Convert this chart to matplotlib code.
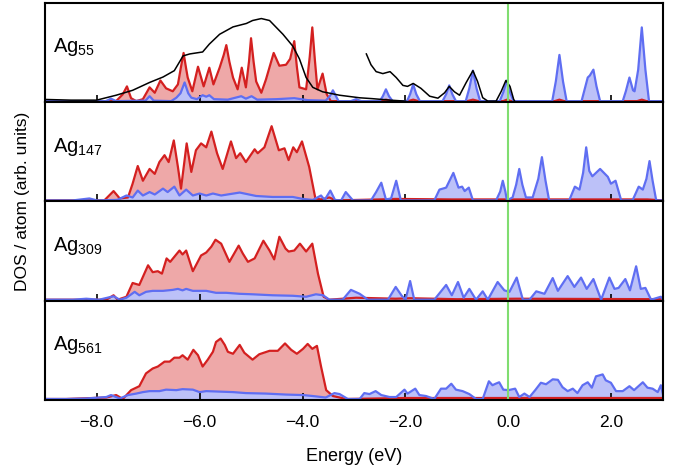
import matplotlib
matplotlib.use('Agg')
import matplotlib.pyplot as plt
from matplotlib.ticker import FuncFormatter

plt.rcParams['font.family'] = ['Liberation Sans', 'DejaVu Sans']
plt.rcParams['mathtext.fontset'] = 'custom'
plt.rcParams['mathtext.rm'] = 'Liberation Sans'

# ---- Ag55 ----
e_d55 = [-9.0, -7.62, -7.49, -7.41, -7.33, -7.23, -7.10, -6.97, -6.87, -6.76, -6.65, -6.52, -6.42, -6.36, -6.31,
         -6.26, -6.23, -6.14, -6.03, -5.92, -5.81, -5.73, -5.61, -5.53, -5.48, -5.42, -5.35, -5.26, -5.18, -5.10,
         -5.04, -5.00, -4.95, -4.90, -4.80, -4.71, -4.56, -4.45, -4.32, -4.24, -4.16, -4.11, -4.06, -3.93, -3.86,
         -3.81, -3.76, -3.71, -3.61, -3.53, -3.45, -2.50, -2.38, -2.25, -1.95, -1.85, -1.75, -0.80, -0.69, -0.58,
         -0.10, -0.03, 0.05, 0.90, 0.99, 1.08, 2.50, 2.59, 2.68, 3.0]
d55 = [0.0, 0.0, 0.07, 0.15, 0.03, 0.0, 0.02, 0.14, 0.085, 0.21, 0.13, 0.10, 0.17, 0.35, 0.49,
       0.33, 0.24, 0.10, 0.35, 0.15, 0.34, 0.17, 0.34, 0.47, 0.57, 0.40, 0.24, 0.12, 0.34, 0.14,
       0.40, 0.64, 0.40, 0.20, 0.085, 0.22, 0.49, 0.36, 0.37, 0.43, 0.61, 0.35, 0.14, 0.12, 0.45,
       0.75, 0.42, 0.12, 0.28, 0.07, 0.0, 0.0, 0.015, 0.0, 0.0, 0.015, 0.0, 0.0, 0.015, 0.0,
       0.0, 0.015, 0.0, 0.0, 0.015, 0.0, 0.0, 0.015, 0.0, 0.0]

e_s55 = [-9.0, -7.82, -7.72, -7.62, -7.05, -6.97, -6.89, -6.55, -6.45, -6.37, -6.29, -6.22, -6.16, -6.05, -5.94,
         -5.87, -5.81, -5.72, -5.45, -5.19, -5.10, -4.99, -4.88, -4.50, -4.16, -3.90, -3.55, -3.47, -3.41, -3.35,
         -3.30, -3.06, -2.96, -2.86, -2.50, -2.44, -2.38, -2.32, -2.25, -1.97, -1.91, -1.85, -1.79, -1.72, -1.28,
         -1.21, -1.15, -1.09, -1.02, -0.83, -0.76, -0.69, -0.62, -0.55, -0.17, -0.10, -0.03, 0.03, 0.10, 0.85,
         0.92, 0.99, 1.06, 1.13, 1.42, 1.48, 1.54, 1.58, 1.65, 1.71, 1.78, 2.22, 2.28, 2.35, 2.42,
         2.45, 2.52, 2.59, 2.66, 2.73, 3.0]
s55 = [0.0, 0.0, 0.025, 0.0, 0.005, 0.05, 0.005, 0.0, 0.035, 0.08, 0.19, 0.08, 0.035, 0.02, 0.06,
       0.045, 0.06, 0.02, 0.015, 0.05, 0.025, 0.05, 0.015, 0.02, 0.03, 0.01, 0.005, 0.05, 0.11, 0.05,
       0.0, 0.0, 0.02, 0.0, 0.0, 0.05, 0.12, 0.05, 0.0, 0.0, 0.07, 0.17, 0.07, 0.0, 0.0,
       0.07, 0.16, 0.07, 0.0, 0.0, 0.13, 0.31, 0.13, 0.0, 0.0, 0.09, 0.21, 0.09, 0.0, 0.0,
       0.20, 0.47, 0.20, 0.0, 0.0, 0.12, 0.24, 0.26, 0.32, 0.15, 0.0, 0.0, 0.10, 0.24, 0.11,
       0.10, 0.32, 0.75, 0.32, 0.0, 0.0]

# photoemission spectrum (two pieces)
e_exp_a = [-9.0, -8.5, -8.0, -7.62, -7.30, -6.97, -6.71, -6.49, -6.32, -6.19, -5.94, -5.81, -5.61, -5.35, -5.09,
           -4.97, -4.80, -4.64, -4.51, -4.38, -4.19, -4.06, -3.93, -3.80, -3.61, -3.28, -2.89, -2.64, -2.30, -2.0]
exp_a = [0.017, 0.01, 0.01, 0.06, 0.11, 0.19, 0.245, 0.31, 0.46, 0.48, 0.50, 0.58, 0.68, 0.755, 0.79,
         0.82, 0.84, 0.82, 0.75, 0.68, 0.56, 0.43, 0.24, 0.14, 0.095, 0.06, 0.034, 0.025, 0.01, 0.0]
e_exp_b = [-2.76, -2.67, -2.57, -2.44, -2.30, -2.18, -2.05, -1.96, -1.85, -1.70, -1.53, -1.37, -1.24, -1.15, -1.05,
           -0.95, -0.82, -0.69, -0.60, -0.50, -0.40, -0.24, -0.14, -0.05, 0.03, 0.10, 0.12]
exp_b = [0.48, 0.37, 0.30, 0.28, 0.30, 0.24, 0.16, 0.15, 0.18, 0.13, 0.05, 0.03, 0.085, 0.15, 0.095,
         0.06, 0.19, 0.31, 0.20, 0.035, 0.0, 0.0, 0.10, 0.21, 0.15, 0.02, 0.0]

# ---- Ag147 ----
e_d147 = [-9.0, -7.85, -7.67, -7.55, -7.39, -7.30, -7.20, -7.10, -6.97, -6.87, -6.78, -6.68, -6.60, -6.50, -6.42,
          -6.36, -6.25, -6.16, -6.07, -5.97, -5.87, -5.77, -5.66, -5.55, -5.39, -5.29, -5.21, -5.10, -4.93, -4.87,
          -4.74, -4.60, -4.46, -4.35, -4.27, -4.18, -4.11, -4.01, -3.87, -3.75, -3.64, -3.48, -3.35, -2.50, -2.20,
          -1.10, 0.20, 0.65, 1.50, 2.70, 3.0]
d147 = [0.0, 0.0, 0.095, 0.02, 0.03, 0.17, 0.35, 0.20, 0.32, 0.27, 0.39, 0.46, 0.39, 0.61, 0.34,
        0.12, 0.58, 0.29, 0.51, 0.58, 0.54, 0.70, 0.48, 0.32, 0.60, 0.43, 0.48, 0.39, 0.52, 0.48,
        0.54, 0.755, 0.51, 0.53, 0.41, 0.54, 0.49, 0.60, 0.34, 0.02, 0.01, 0.03, 0.0, 0.01, 0.015,
        0.01, 0.01, 0.01, 0.01, 0.01, 0.0]

e_s147 = [-9.0, -8.46, -8.14, -7.99, -7.60, -7.42, -7.30, -7.20, -7.10, -6.97, -6.87, -6.71, -6.62, -6.49, -6.39,
          -6.26, -6.13, -6.0, -5.87, -5.74, -5.58, -5.22, -4.90, -4.58, -4.19, -3.99, -3.80, -3.64, -3.57, -3.46,
          -3.37, -3.25, -3.16, -3.02, -2.67, -2.57, -2.47, -2.38, -2.28, -2.18, -2.09, -1.44, -1.34, -1.21, -1.07,
          -0.97, -0.90, -0.85, -0.77, -0.69, -0.24, -0.16, -0.11, -0.06, -0.03, 0.08, 0.15, 0.21, 0.27, 0.34,
          0.47, 0.58, 0.65, 0.72, 0.79, 1.18, 1.29, 1.38, 1.45, 1.51, 1.57, 1.63, 1.78, 1.93, 1.99,
          2.08, 2.19, 2.41, 2.53, 2.61, 2.68, 2.74, 2.80, 2.87, 3.0]
s147 = [0.0, 0.0, 0.02, 0.0, 0.005, 0.05, 0.03, 0.10, 0.05, 0.085, 0.06, 0.12, 0.085, 0.14, 0.05,
        0.11, 0.05, 0.07, 0.05, 0.07, 0.05, 0.08, 0.045, 0.035, 0.035, 0.015, 0.005, 0.05, 0.005, 0.10,
        0.005, 0.0, 0.085, 0.0, 0.0, 0.085, 0.18, 0.01, 0.02, 0.20, 0.0, 0.0, 0.11, 0.13, 0.28,
        0.13, 0.14, 0.095, 0.13, 0.0, 0.0, 0.09, 0.20, 0.09, 0.0, 0.03, 0.16, 0.32, 0.16, 0.03,
        0.03, 0.22, 0.44, 0.20, 0.0, 0.0, 0.14, 0.11, 0.28, 0.54, 0.30, 0.245, 0.32, 0.24, 0.17,
        0.20, 0.0, 0.0, 0.14, 0.11, 0.22, 0.40, 0.20, 0.0, 0.0]

# ---- Ag309 ----
e_d309 = [-9.0, -7.81, -7.67, -7.59, -7.42, -7.30, -7.17, -7.00, -6.91, -6.81, -6.73, -6.64, -6.57, -6.39, -6.33,
          -6.26, -6.13, -5.97, -5.87, -5.77, -5.69, -5.58, -5.42, -5.24, -5.16, -5.06, -4.93, -4.76, -4.64, -4.55,
          -4.45, -4.33, -4.27, -4.16, -4.05, -3.93, -3.81, -3.70, -3.59, -3.48, -2.96, -2.19, -1.91, -1.0, 0.16,
          3.0]
d309 = [0.0, 0.0, 0.045, 0.0, 0.03, 0.17, 0.15, 0.35, 0.28, 0.29, 0.265, 0.42, 0.385, 0.50, 0.46,
        0.50, 0.29, 0.45, 0.48, 0.54, 0.61, 0.57, 0.385, 0.55, 0.47, 0.385, 0.42, 0.60, 0.50, 0.41,
        0.64, 0.52, 0.49, 0.50, 0.57, 0.49, 0.57, 0.265, 0.03, 0.0, 0.02, 0.01, 0.015, 0.005, 0.01,
        0.005]

e_s309 = [-9.0, -8.46, -8.2, -7.95, -7.67, -7.55, -7.42, -7.26, -7.17, -7.04, -6.91, -6.71, -6.52, -6.42, -6.33,
          -6.26, -6.13, -5.87, -5.68, -5.48, -5.22, -4.97, -4.58, -4.19, -3.93, -3.74, -3.60, -3.48, -3.22, -3.06,
          -2.89, -2.73, -2.34, -2.19, -2.08, -2.0, -1.91, -1.83, -1.44, -1.21, -1.10, -0.98, -0.87, -0.76, -0.63,
          -0.50, -0.40, -0.21, -0.08, 0.02, 0.16, 0.28, 0.41, 0.54, 0.70, 0.86, 0.96, 1.15, 1.28, 1.41,
          1.52, 1.65, 1.80, 1.96, 2.06, 2.14, 2.27, 2.36, 2.48, 2.57, 2.66, 2.77, 2.96, 3.0]
s309 = [0.0, 0.0, 0.01, 0.0, 0.035, 0.0, 0.02, 0.08, 0.045, 0.08, 0.09, 0.09, 0.10, 0.11, 0.095,
        0.11, 0.09, 0.09, 0.07, 0.07, 0.06, 0.055, 0.045, 0.04, 0.03, 0.055, 0.045, 0.0, 0.0, 0.10,
        0.06, 0.0, 0.0, 0.13, 0.045, 0.0, 0.19, 0.0, 0.0, 0.15, 0.045, 0.18, 0.02, 0.11, 0.0,
        0.085, 0.0, 0.18, 0.095, 0.08, 0.225, 0.0, 0.0, 0.085, 0.06, 0.22, 0.09, 0.24, 0.13, 0.225,
        0.11, 0.21, 0.0, 0.225, 0.11, 0.12, 0.21, 0.095, 0.34, 0.11, 0.12, 0.0, 0.03, 0.0]

# ---- Ag561 ----
e_d561 = [-9.0, -8.59, -7.81, -7.62, -7.49, -7.33, -7.17, -7.04, -6.91, -6.81, -6.68, -6.58, -6.49, -6.39, -6.33,
          -6.23, -6.12, -6.03, -5.94, -5.84, -5.74, -5.68, -5.59, -5.51, -5.45, -5.35, -5.22, -5.13, -4.97, -4.84,
          -4.64, -4.48, -4.34, -4.22, -4.11, -3.99, -3.90, -3.81, -3.72, -3.64, -3.54, -3.41, -3.15, -2.0, 0.0,
          3.0]
d561 = [0.0, 0.0, 0.015, 0.04, 0.0, 0.09, 0.13, 0.26, 0.31, 0.33, 0.38, 0.38, 0.42, 0.42, 0.445,
        0.40, 0.50, 0.445, 0.33, 0.40, 0.48, 0.58, 0.615, 0.55, 0.48, 0.46, 0.55, 0.47, 0.40, 0.455,
        0.49, 0.49, 0.565, 0.50, 0.46, 0.51, 0.56, 0.51, 0.54, 0.33, 0.09, 0.03, 0.0, 0.01, 0.01,
        0.01]

e_s561 = [-9.0, -8.59, -8.2, -7.81, -7.72, -7.55, -7.39, -7.23, -7.10, -6.97, -6.78, -6.65, -6.45, -6.33, -6.13,
          -6.0, -5.87, -5.61, -5.35, -5.10, -4.71, -4.32, -3.99, -3.80, -3.55, -3.38, -3.28, -3.12, -2.89, -2.80,
          -2.70, -2.58, -2.47, -2.31, -2.18, -2.02, -1.96, -1.81, -1.73, -1.60, -1.44, -1.31, -1.21, -1.11, -1.02,
          -0.89, -0.76, -0.63, -0.50, -0.38, -0.31, -0.25, -0.18, -0.10, 0.0, 0.13, 0.21, 0.31, 0.41, 0.52,
          0.63, 0.73, 0.86, 0.96, 1.05, 1.15, 1.25, 1.34, 1.44, 1.54, 1.62, 1.70, 1.83, 1.89, 1.99,
          2.09, 2.22, 2.35, 2.44, 2.61, 2.70, 2.80, 2.90, 2.96, 3.0]
s561 = [0.0, 0.0, 0.005, 0.02, 0.04, 0.005, 0.04, 0.055, 0.07, 0.08, 0.08, 0.095, 0.09, 0.10, 0.095,
        0.07, 0.08, 0.075, 0.07, 0.06, 0.055, 0.045, 0.04, 0.03, 0.015, 0.06, 0.05, 0.0, 0.0, 0.06,
        0.05, 0.08, 0.04, 0.02, 0.02, 0.095, 0.055, 0.105, 0.04, 0.03, 0.0, 0.105, 0.105, 0.155, 0.095,
        0.08, 0.05, 0.0, 0.0, 0.18, 0.14, 0.155, 0.17, 0.095, 0.09, 0.105, 0.02, 0.055, 0.02, 0.09,
        0.165, 0.15, 0.20, 0.195, 0.12, 0.08, 0.105, 0.06, 0.14, 0.17, 0.115, 0.23, 0.25, 0.19, 0.165,
        0.08, 0.08, 0.13, 0.09, 0.17, 0.115, 0.105, 0.07, 0.14, 0.05]

labels = ['55', '147', '309', '561']
d_series = [(e_d55, d55), (e_d147, d147), (e_d309, d309), (e_d561, d561)]
s_series = [(e_s55, s55), (e_s147, s147), (e_s309, s309), (e_s561, s561)]
xticks = [-8.0, -6.0, -4.0, -2.0, 0.0, 2.0]

red = '#d42020'
red_fill = '#eea8a8'
blue = '#5f6ef2'
blue_fill = '#bcc1f8'

fig, axes = plt.subplots(4, 1, figsize=(6.73, 4.70), dpi=100, sharex=True)
fig.subplots_adjust(left=0.067, right=0.985, top=0.994, bottom=0.149, hspace=0.0)

for i, ax in enumerate(axes):
    ed, d = d_series[i]
    es, s = s_series[i]
    ax.fill_between(ed, d, 0, color=red_fill, lw=0)
    ax.plot(ed, d, color=red, lw=1.6)
    ax.fill_between(es, s, 0, color=blue_fill, lw=0)
    ax.plot(es, s, color=blue, lw=1.6)
    if i == 0:
        ax.plot(e_exp_a, exp_a, color='black', lw=1.1)
        ax.plot(e_exp_b, exp_b, color='black', lw=1.1)
    ax.axvline(0.0, color='#80dd70', lw=1.5)
    ax.text(0.013, 0.55, r'Ag$_{\mathregular{%s}}$' % labels[i], transform=ax.transAxes,
            fontsize=14.5, va='center', ha='left')
    ax.set_xlim(-9.0, 3.0)
    ax.set_ylim(-0.01, 1.0)
    ax.set_yticks([])
    ax.set_xticks(xticks)
    ax.tick_params(axis='x', direction='in', length=5, width=1.2, labelsize=12.5, pad=10.5, top=False)
    for sp in ax.spines.values():
        sp.set_linewidth(1.5)

axes[-1].xaxis.set_major_formatter(FuncFormatter(lambda v, p: ('%.1f' % v).replace('-', '\u2212')))
axes[-1].set_xlabel('Energy (eV)', fontsize=13, labelpad=13)
fig.text(0.033, 0.572, 'DOS / atom (arb. units)', rotation=90, fontsize=12.5, va='center', ha='center')

plt.savefig('out.png', dpi=100)
